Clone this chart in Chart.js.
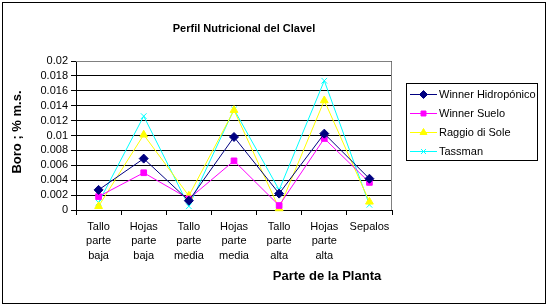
<!DOCTYPE html>
<html><head><meta charset="utf-8">
<script src="https://cdn.jsdelivr.net/npm/chart.js@4/dist/chart.umd.min.js"></script>
<style>
html,body{margin:0;padding:0;background:#fff;}
#wrap{position:absolute;left:0;top:0;width:549px;height:306px;}
#frame{position:absolute;left:2px;top:2px;width:542px;height:300px;border:1px solid #000;pointer-events:none;}
canvas{position:absolute;left:0;top:0;}
</style></head>
<body>
<div id="wrap"><canvas id="c" width="549" height="306"></canvas><div id="frame"></div></div>
<script>
const categories = [["Tallo","parte","baja"],["Hojas","parte","baja"],["Tallo","parte","media"],["Hojas","parte","media"],["Tallo","parte","alta"],["Hojas","parte","alta"],["Sepalos"]];
const seriesNames = ["Winner Hidropónico","Winner Suelo","Raggio di Sole","Tassman"];
const winnerHidroponico = [0.0027,0.0069,0.00125,0.0098,0.0022,0.01025,0.0042];
const winnerSuelo = [0.0018,0.0050,0.0015,0.0066,0.0006,0.0096,0.0037];
const raggioDiSole = [0.0005,0.0101,0.0019,0.0134,0.0002,0.0147,0.0011];
const tassman = [0.0010,0.0126,0.0005,0.0135,0.0027,0.01735,0.0007];
const yTicks = [0,0.002,0.004,0.006,0.008,0.01,0.012,0.014,0.016,0.018,0.02];
const chartTitle = "Perfil Nutricional del Clavel";
const xTitle = "Parte de la Planta";
const yTitle = "Boro ; % m.s.";

const colors = ["#000080","#FF00FF","#FFFF00","#00FFFF"];
const styles = ["rectRot","rect","triangle","crossRot"];
const radii = [4.5,4,4.5,4];
const values = [winnerHidroponico,winnerSuelo,raggioDiSole,tassman];
const FONT = "'Liberation Sans', Arial, sans-serif";

const PLOT = {left:76,right:392,top:61,bottom:210};

const decor = {
  id:'decor',
  beforeDatasetsDraw(chart){
    const ctx = chart.ctx, a = chart.chartArea;
    ctx.save();
    ctx.strokeStyle = '#808080'; ctx.lineWidth = 1;
    ctx.beginPath();
    ctx.moveTo(a.left, a.top+0.5); ctx.lineTo(a.right-0.5, a.top+0.5); ctx.lineTo(a.right-0.5, a.bottom);
    ctx.stroke();
    ctx.restore();
  },
  afterDraw(chart){
    const ctx = chart.ctx;
    ctx.save();
    ctx.fillStyle = '#000';
    ctx.textBaseline = 'middle';
    ctx.textAlign = 'center';
    ctx.font = "bold 11px " + FONT;
    ctx.fillText(chartTitle, 244, 29);
    ctx.font = "bold 13px " + FONT;
    ctx.fillText(xTitle, 327, 276);
    ctx.save();
    ctx.translate(17, 132);
    ctx.rotate(-Math.PI/2);
    ctx.fillText(yTitle, 0, 0);
    ctx.restore();
    // legend
    ctx.strokeStyle = '#000'; ctx.lineWidth = 1;
    ctx.strokeRect(406.5, 83.5, 131, 77);
    ctx.font = "11px " + FONT;
    ctx.textAlign = 'left';
    const ys = [94, 113, 132, 151];
    chart.data.datasets.forEach((ds, i) => {
      const y = ys[i] + 0.5;
      ctx.strokeStyle = ds.borderColor; ctx.fillStyle = ds.borderColor; ctx.lineWidth = 1;
      ctx.beginPath(); ctx.moveTo(410, y); ctx.lineTo(437, y); ctx.stroke();
      Chart.helpers.drawPoint(ctx, {pointStyle: ds.pointStyle, radius: ds.pointRadius - 0.5, borderWidth: 1, rotation: 0}, 423.5, y);
      ctx.fillStyle = '#000';
      ctx.fillText(ds.label, 439, ys[i] + 1);
    });
    ctx.restore();
  }
};

const datasets = seriesNames.map((n, i) => ({
  label: n,
  data: values[i],
  borderColor: colors[i],
  backgroundColor: colors[i],
  borderWidth: 1,
  pointStyle: styles[i],
  pointRadius: radii[i],
  pointBorderWidth: 1,
  pointBackgroundColor: colors[i],
  pointBorderColor: colors[i],
  tension: 0,
  clip: false,
  order: i
}));

new Chart(document.getElementById('c'), {
  type: 'line',
  data: { labels: categories, datasets },
  options: {
    responsive: false,
    animation: false,
    devicePixelRatio: 1,
    layout: { padding: { left: 0, right: 549 - PLOT.right, top: PLOT.top, bottom: 0 } },
    plugins: { legend: { display: false }, title: { display: false }, tooltip: { enabled: false } },
    scales: {
      x: {
        offset: true,
        grid: { display: true, drawOnChartArea: false, offset: true, tickLength: 5, color: '#000', tickColor: '#000', lineWidth: 1 },
        border: { display: true, color: '#000', width: 1 },
        ticks: { color: '#000', font: { family: FONT, size: 11, lineHeight: 1.36 }, padding: 4, maxRotation: 0, autoSkip: false },
        afterFit(s){ s.height = 306 - PLOT.bottom; }
      },
      y: {
        min: 0, max: 0.02,
        afterBuildTicks(s){ s.ticks = yTicks.map(v => ({value: v})); },
        grid: { color: '#000', tickLength: 5, tickColor: '#000', lineWidth: 1 },
        border: { display: true, color: '#000', width: 1 },
        ticks: { color: '#000', font: { family: FONT, size: 11 }, padding: 3, autoSkip: false, callback: v => String(+v.toFixed(3)) },
        afterFit(s){ s.width = PLOT.left; }
      }
    }
  },
  plugins: [decor]
});
</script>
</body></html>
